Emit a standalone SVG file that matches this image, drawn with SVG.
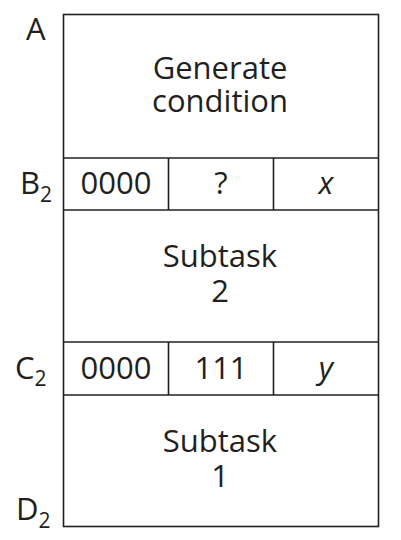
<svg xmlns="http://www.w3.org/2000/svg" width="401" height="540" viewBox="0 0 401 540">
<style>
.ln{stroke:#231f20;stroke-width:1.6;fill:none}
.t{font-family:"Open Sans","Noto Sans",sans-serif;font-size:31px;fill:#231f20;text-anchor:middle}
.l{font-family:"Open Sans","Noto Sans",sans-serif;font-size:31px;fill:#231f20;text-anchor:start}
.s{font-size:21px}
.i{font-style:italic}
</style>
<rect width="401" height="540" fill="#fff"/>
<g id="frame">
<rect class="ln" x="63.5" y="14.5" width="315" height="512"/>
</g>
<g id="connectors">
<line class="ln" x1="63.5" y1="158" x2="378.5" y2="158"/>
<line class="ln" x1="63.5" y1="210" x2="378.5" y2="210"/>
<line class="ln" x1="63.5" y1="342" x2="378.5" y2="342"/>
<line class="ln" x1="63.5" y1="395" x2="378.5" y2="395"/>
<line class="ln" x1="168.5" y1="158" x2="168.5" y2="210"/>
<line class="ln" x1="273.5" y1="158" x2="273.5" y2="210"/>
<line class="ln" x1="168.5" y1="342" x2="168.5" y2="395"/>
<line class="ln" x1="273.5" y1="342" x2="273.5" y2="395"/>
</g>
<g id="generate">
<text class="t" x="220" y="79">Generate<tspan x="220" dy="33">condition</tspan></text>
</g>
<g id="rowB">
<text class="t" x="116" y="194">0000</text>
<text class="t" x="221" y="194">?</text>
<text class="t i" x="326" y="194">x</text>
</g>
<g id="subtask2">
<text class="t" x="220" y="267">Subtask<tspan x="220" dy="35">2</tspan></text>
</g>
<g id="rowC">
<text class="t" x="116" y="379">0000</text>
<text class="t" x="221" y="379">111</text>
<text class="t i" x="326" y="379">y</text>
</g>
<g id="subtask1">
<text class="t" x="220" y="452">Subtask<tspan x="220" dy="35">1</tspan></text>
</g>
<g id="labels">
<text class="l" x="26" y="40">A</text>
<text class="l" x="20" y="194">B<tspan class="s" dy="8">2</tspan></text>
<text class="l" x="15" y="379">C<tspan class="s" dy="7">2</tspan></text>
<text class="l" x="16" y="520">D<tspan class="s" dy="8">2</tspan></text>
</g>
</svg>
